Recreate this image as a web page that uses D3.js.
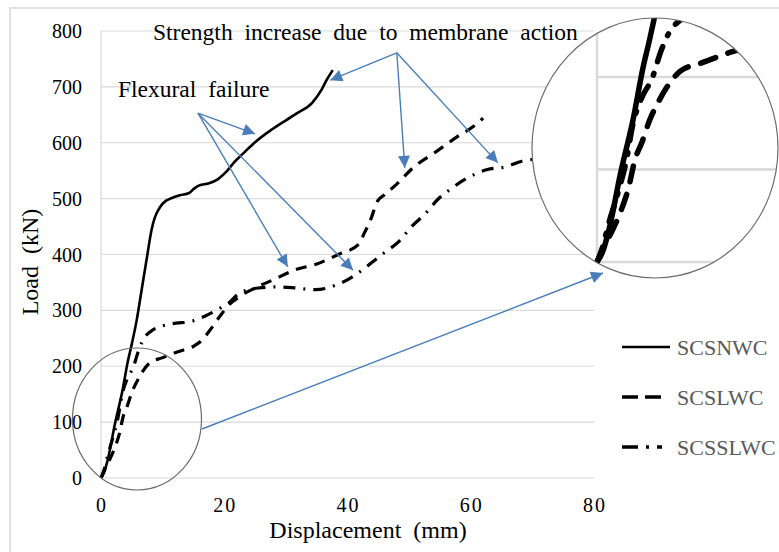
<!DOCTYPE html>
<html>
<head>
<meta charset="utf-8">
<script src="https://cdn.jsdelivr.net/npm/d3@7"></script>
<style>
  body { margin: 0; background: #fff; }
  svg text { font-family: "Liberation Serif", "Times New Roman", serif; }
</style>
</head>
<body>
<svg width="779" height="552"></svg>
<script>
// load-displacement curves (mm, kN)
const nwcDisp = [0, 0.5, 1.1, 2.3, 3.4, 4.4, 5.0, 5.8, 6.6, 7.4, 8.2, 8.7, 9.6, 10.5, 11.5, 12.8, 14.3, 15.0, 16.0, 17.4, 19.0, 20.5, 21.6, 23.0, 24.9, 27.9, 31.7, 34.3, 35.8, 36.6, 37.6];
const nwcLoad = [0, 10, 33, 99, 152, 211, 240, 283, 337, 391, 444, 465, 485, 496, 501, 506, 510, 517, 524, 527, 535, 550, 565, 580, 600, 625, 652, 672, 695, 712, 730];

const lwcDisp = [0, 0.6, 1.5, 2.3, 3.0, 3.6, 4.3, 5.0, 5.8, 6.6, 7.9, 9.9, 12.5, 15.2, 16.5, 17.7, 19.2, 20.6, 22.5, 25, 28, 31.6, 35, 38.5, 41.8, 42.8, 43.6, 44.9, 46, 47.9, 50.6, 54.5, 57.7, 61.1, 62];
const lwcLoad = [0, 15, 35, 56, 80, 110, 130, 153, 172, 188, 206, 215, 226, 237, 248, 265, 288, 308, 325, 340, 355, 373, 383, 400, 418, 440, 458, 496, 507, 525, 555, 585, 610, 635, 644];

const slwcDisp = [0, 0.5, 1.1, 2.0, 2.8, 3.4, 4.2, 5.3, 6.0, 6.6, 8.4, 11.5, 14.6, 17.3, 19.5, 20.6, 22.5, 25.5, 28.7, 31.7, 34.8, 38.1, 40.8, 43.3, 45.7, 48.4, 50.4, 52.7, 54.6, 57.1, 59.8, 62.7, 65.7, 68.3, 70];
const slwcLoad = [0, 15, 41, 75, 110, 148, 176, 200, 225, 242, 265, 276, 280, 292, 305, 312, 331, 340, 342, 340, 337, 345, 360, 380, 401, 424, 450, 474, 498, 520, 539, 552, 557, 567, 570];

const seriesNames = ["SCSNWC", "SCSLWC", "SCSSLWC"];
const xTicks = [0, 20, 40, 60, 80];
const yTicks = [0, 100, 200, 300, 400, 500, 600, 700, 800];
const insetTicks = [0, 100, 200, 300];

// annotation arrows in data units
const flexFrom = [15.74, 653];
const flexTo = [[25.0, 616], [30.3, 378], [40.9, 372]];
const memFrom = [48.0, 761];
const memTo = [[37.2, 712], [49.3, 555], [64.4, 564]];

const series = [
  {name: seriesNames[0], pts: d3.zip(nwcDisp, nwcLoad), dash: null, idash: null, ldash: null},
  {name: seriesNames[1], pts: d3.zip(lwcDisp, lwcLoad), dash: "11 8", idash: "16 13", ldash: "16 7 16 100"},
  {name: seriesNames[2], pts: d3.zip(slwcDisp, slwcLoad), dash: "12 8 2 8", idash: "16 12 2 12", ldash: "16 8 3 8 5 100"}
];

const svg = d3.select("svg");
const grid = "#d9d9d9";
const blue = "#4a7ebb";

const x = d3.scaleLinear().domain([0, 80]).range([101, 594]);
const y = d3.scaleLinear().domain([0, 800]).range([478, 31]);

// chart border
svg.append("path").attr("d", "M10,552 V8 H779").attr("fill", "none").attr("stroke", grid).attr("stroke-width", 1.5);

// gridlines
svg.append("g").selectAll("line").data(yTicks).join("line")
  .attr("x1", x(0)).attr("x2", x(80))
  .attr("y1", d => y(d)).attr("y2", d => y(d))
  .attr("stroke", grid).attr("stroke-width", 1.2);
svg.append("line").attr("x1", x(0)).attr("x2", x(0)).attr("y1", y(800)).attr("y2", y(0))
  .attr("stroke", grid).attr("stroke-width", 1.2);

// tick labels
svg.append("g").selectAll("text").data(yTicks).join("text")
  .attr("x", 82).attr("y", d => y(d)).attr("dy", "0.35em")
  .attr("text-anchor", "end").attr("font-size", 20).text(d => d);
svg.append("g").selectAll("text").data(xTicks).join("text")
  .attr("x", d => x(d) + 1).attr("y", 512)
  .attr("text-anchor", "middle").attr("font-size", 20).attr("letter-spacing", 2).text(d => d);

// axis titles
svg.append("text").attr("x", 368).attr("y", 538).attr("text-anchor", "middle")
  .attr("font-size", 24).attr("word-spacing", 6).text("Displacement (mm)");
svg.append("text").attr("transform", "translate(38,262) rotate(-90)").attr("text-anchor", "middle")
  .attr("font-size", 24).attr("word-spacing", 6).text("Load (kN)");

const line = (sx, sy) => d3.line().x(d => sx(d[0])).y(d => sy(d[1])).curve(d3.curveMonotoneX);

// main series
svg.append("g").selectAll("path").data(series).join("path")
  .attr("d", d => line(x, y)(d.pts))
  .attr("fill", "none").attr("stroke", "#000")
  .attr("stroke-width", d => d.dash ? 3.2 : 2.6)
  .attr("stroke-dasharray", d => d.dash);

// small circle around origin region
svg.append("ellipse").attr("cx", 137).attr("cy", 419).attr("rx", 64.5).attr("ry", 71)
  .attr("fill", "none").attr("stroke", "#6b6b6b").attr("stroke-width", 1.2);

// magnified inset
const icx = 655, icy = 148, irx = 123, iry = 130;
svg.append("clipPath").attr("id", "insetClip").append("ellipse")
  .attr("cx", icx).attr("cy", icy).attr("rx", irx).attr("ry", iry);
svg.append("ellipse").attr("cx", icx).attr("cy", icy).attr("rx", irx).attr("ry", iry).attr("fill", "#fff");
const ix = d3.scaleLinear().domain([0, 10]).range([597, 702]);
const iy = d3.scaleLinear().domain([0, 100]).range([262, 169.5]);
const inset = svg.append("g").attr("clip-path", "url(#insetClip)");
inset.selectAll("line.h").data(insetTicks).join("line").attr("class", "h")
  .attr("x1", ix(0)).attr("x2", 800).attr("y1", d => iy(d)).attr("y2", d => iy(d))
  .attr("stroke", grid).attr("stroke-width", 2.5);
inset.append("line").attr("x1", ix(0)).attr("x2", ix(0)).attr("y1", 0).attr("y2", iy(0))
  .attr("stroke", grid).attr("stroke-width", 2.5);
inset.selectAll("path").data(series).join("path")
  .attr("d", d => line(ix, iy)(d.pts))
  .attr("fill", "none").attr("stroke", "#000")
  .attr("stroke-width", 5.5).attr("stroke-linecap", "round")
  .attr("stroke-dasharray", d => d.idash);
svg.append("ellipse").attr("cx", icx).attr("cy", icy).attr("rx", irx).attr("ry", iry)
  .attr("fill", "none").attr("stroke", "#6b6b6b").attr("stroke-width", 1.2);

// arrows
const defs = svg.append("defs");
defs.append("marker").attr("id", "head").attr("viewBox", "0 0 10 10")
  .attr("refX", 10).attr("refY", 5).attr("markerWidth", 13).attr("markerHeight", 12)
  .attr("markerUnits", "userSpaceOnUse").attr("orient", "auto")
  .append("path").attr("d", "M0,0 L10,5 L0,10 Z").attr("fill", blue);

const arrows = flexTo.map(t => [flexFrom, t]).concat(memTo.map(t => [memFrom, t]));
svg.append("g").selectAll("line").data(arrows).join("line")
  .attr("x1", d => x(d[0][0])).attr("y1", d => y(d[0][1]))
  .attr("x2", d => x(d[1][0])).attr("y2", d => y(d[1][1]))
  .attr("stroke", blue).attr("stroke-width", 1.4).attr("marker-end", "url(#head)");
svg.append("line").attr("x1", 202).attr("y1", 429).attr("x2", 603).attr("y2", 273)
  .attr("stroke", blue).attr("stroke-width", 1.4).attr("marker-end", "url(#head)");

// annotation text
svg.append("text").attr("x", 153).attr("y", 40).attr("font-size", 23.5).attr("word-spacing", 6)
  .text("Strength increase due to membrane action");
svg.append("text").attr("x", 118).attr("y", 97).attr("font-size", 23.5).attr("word-spacing", 6)
  .text("Flexural failure");

// legend
const leg = svg.append("g").selectAll("g").data(series).join("g")
  .attr("transform", (d, i) => `translate(622,${347 + i * 50})`);
leg.append("line").attr("x1", 0).attr("x2", 48).attr("y1", 0).attr("y2", 0)
  .attr("stroke", "#000").attr("stroke-width", d => d.dash ? 3.5 : 2.6)
  .attr("stroke-dasharray", d => d.ldash);
leg.append("text").attr("x", 55).attr("y", 0).attr("dy", "0.35em")
  .attr("font-size", 22).attr("fill", "#595959").text(d => d.name);
</script>
</body>
</html>
